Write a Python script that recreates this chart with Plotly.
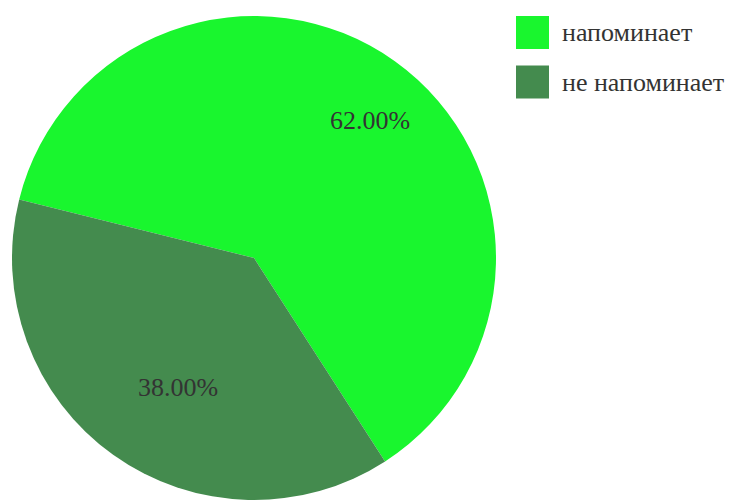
import math
import plotly.graph_objects as go

# Share of responses
labels = ["напоминает", "не напоминает"]
values = [62, 38]
colors = ["#19F62E", "#448B4E"]

W, H = 732, 500
TOP = 16
FONT = "Times New Roman, Liberation Serif, Tinos, DejaVu Serif, serif"
FONT_SIZE = 26
TEXT_COLOR = "#333333"
ROTATION = -76  # start angle of the first slice, degrees clockwise from 12 o'clock

# Pie geometry in pixels (domain is centred at x = 254, full plot height)
cx, cy, r = 254, TOP + (H - TOP) / 2, (H - TOP) / 2
ph = H - TOP


def to_paper(px, py):
    return px / W, 1 - (py - TOP) / ph


fig = go.Figure(
    go.Pie(
        labels=labels,
        values=values,
        sort=False,
        direction="clockwise",
        rotation=ROTATION,
        marker=dict(colors=colors, line=dict(width=0)),
        textinfo="none",
        hoverinfo="label+percent",
        showlegend=False,
        domain=dict(x=[(cx - r) / W, (cx + r) / W], y=[0, 1]),
    )
)

annotations, shapes = [], []

# Percentage labels placed along each slice's bisector
total = sum(values)
start = ROTATION
for v in values:
    span = 360 * v / total
    mid = math.radians(start + span / 2)
    px = cx + 0.68 * r * math.sin(mid) + 20
    py = cy - 0.68 * r * math.cos(mid) - 4
    x, y = to_paper(px, py)
    annotations.append(dict(
        xref="paper", yref="paper", x=x, y=y,
        xanchor="center", yanchor="middle", showarrow=False,
        text=f"{100 * v / total:.2f}%",
        font=dict(family=FONT, size=FONT_SIZE, color=TEXT_COLOR),
    ))
    start += span

# Custom legend: large colour squares with labels at the upper right
box_x0, box_size, row_gap = 516, 33, 49.5
for i, (lab, col) in enumerate(zip(labels, colors)):
    y0 = TOP + i * row_gap
    x0p, y1p = to_paper(box_x0, y0)
    x1p, y0p = to_paper(box_x0 + box_size, y0 + box_size)
    shapes.append(dict(
        type="rect", xref="paper", yref="paper",
        x0=x0p, x1=x1p, y0=y0p, y1=y1p,
        fillcolor=col, line=dict(width=0), layer="above",
    ))
    tx, ty = to_paper(box_x0 + box_size + 11, y0 + box_size / 2)
    annotations.append(dict(
        xref="paper", yref="paper", x=tx, y=ty,
        xanchor="left", yanchor="middle", showarrow=False,
        text=lab, font=dict(family=FONT, size=FONT_SIZE, color=TEXT_COLOR),
    ))

fig.update_layout(
    width=W, height=H,
    margin=dict(l=0, r=0, t=TOP, b=0),
    paper_bgcolor="white", plot_bgcolor="white",
    shapes=shapes, annotations=annotations,
)

fig.write_html("out.html")
